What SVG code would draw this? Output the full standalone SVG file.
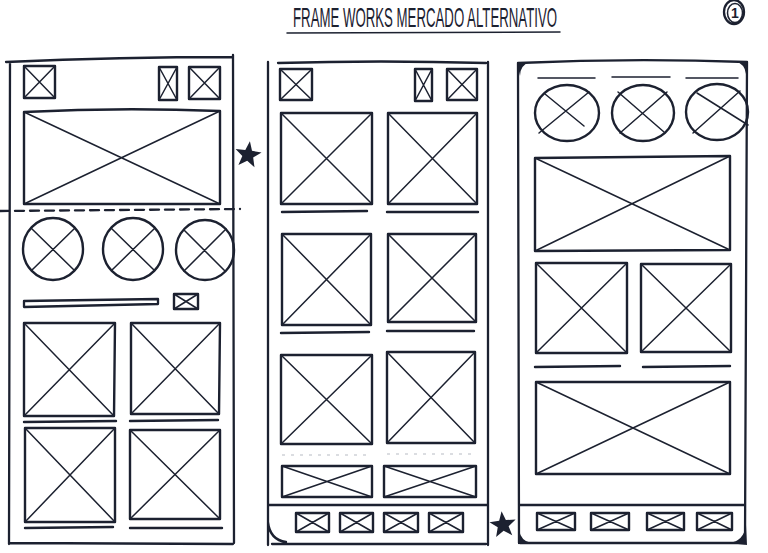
<svg xmlns="http://www.w3.org/2000/svg" width="768" height="553" viewBox="0 0 768 553">
<style>
.f{fill:none;stroke:#1c2130;stroke-width:2.3;stroke-linecap:round;stroke-linejoin:round}
.b{fill:none;stroke:#1c2130;stroke-width:2.4;stroke-linecap:round;stroke-linejoin:round}
.d{fill:none;stroke:#1c2130;stroke-width:1.5;stroke-linecap:round}
.t{fill:#1c2130;font-family:"Liberation Sans",Arial,sans-serif}
.k{fill:#1c2130}
.faint{fill:none;stroke:#b8bcc4;stroke-width:1.2;stroke-dasharray:3 6}
</style>
<defs>
<polygon id="star" points="0,-12 2.94,-4.05 11.41,-3.71 4.76,1.55 7.05,9.71 0,5 -7.05,9.71 -4.76,1.55 -11.41,-3.71 -2.94,-4.05"/>
</defs>
<rect width="768" height="553" fill="#ffffff"/>

<g id="title">
<text class="t" x="0" y="0" font-size="27" transform="translate(293 27) scale(0.5 1)" textLength="528" lengthAdjust="spacingAndGlyphs">FRAME WORKS MERCADO ALTERNATIVO</text>
<path class="d" d="M287 33 L560 32"/>
</g>
<g id="page-number">
<ellipse cx="734" cy="12" rx="10" ry="12" class="f"/>
<ellipse cx="735" cy="13" rx="7.5" ry="9.5" class="d"/>
<text class="t" x="735" y="18" font-size="14" font-weight="bold" text-anchor="middle">1</text>
</g>

<g id="panel-left">
<path class="f" d="M6 62 Q120 57 233 57 M10 63 L9 544 M233 55 L234 543 M9 543 L233 544"/>
<path class="b" d="M24 66 H55 V98 H24 Z M159 67 H177 V100 H159 Z M189 67 H220 V99 H189 Z"/>
<path class="d" d="M24 66 L55 98 M55 66 L24 98 M159 67 L177 100 M177 67 L159 100 M189 67 L220 99 M220 67 L189 99"/>
<path class="b" d="M24 112 Q120 107 220 111 V204 H24 Z"/>
<path class="d" d="M24 112 L220 204 M220 111 L24 204"/>
<path class="f" d="M0 211 L240 209" stroke-dasharray="9 6"/>
<g id="left-circles">
<ellipse class="b" cx="53" cy="249" rx="30" ry="31"/>
<ellipse class="b" cx="133" cy="249" rx="30" ry="31"/>
<ellipse class="b" cx="205" cy="250" rx="29" ry="30"/>
<path class="d" d="M31 228 L74 270 M75 228 L32 270 M111 228 L154 270 M155 228 L112 270 M184 230 L225 271 M226 229 L184 271"/>
</g>
<path class="f" d="M24 301 L158 299 L158 304 L24 307 Z"/>
<path class="b" d="M174 294 H198 V309 H174 Z"/>
<path class="d" d="M174 294 L198 309 M198 294 L174 309"/>
<path class="b" d="M24 323 H115 L114 416 H24 Z M131 323 H220 L219 414 H131 Z M25 428 H115 V522 H25 Z M130 430 H220 V519 H130 Z"/>
<path class="d" d="M24 323 L114 416 M115 323 L24 416 M131 323 L219 414 M220 323 L131 414 M25 428 L115 522 M115 428 L25 522 M130 430 L220 519 M220 430 L130 519"/>
<path class="b" d="M24 422 L116 421 M130 421 L218 420 M25 528 L113 527 M130 528 L222 528"/>
</g>

<g id="star-left"><use href="#star" class="k" transform="translate(248 155) rotate(8) scale(1.15)"/></g>

<g id="panel-middle">
<path class="f" d="M268 62 L268 545 M488 62 L488 545 M278 63 Q380 60 486 63 M268 505 L488 505 M272 544 L486 544 M268 522 Q270 540 286 542"/>
<path class="b" d="M280 69 H312 V100 H280 Z M415 69 H432 V101 H415 Z M447 69 H477 V100 H447 Z"/>
<path class="d" d="M280 69 L312 100 M312 69 L280 100 M415 69 L432 101 M432 69 L415 101 M447 69 L477 100 M477 69 L447 100"/>
<path class="b" d="M281 113 H372 V204 H281 Z M388 113 H477 V204 H388 Z M282 234 H371 V325 H282 Z M388 234 H476 V322 H388 Z M281 355 H372 V444 H281 Z M387 352 H475 V443 H387 Z M282 466 H372 V497 H282 Z M384 466 H476 V497 H384 Z"/>
<path class="d" d="M281 113 L372 204 M372 113 L281 204 M388 113 L477 204 M477 113 L388 204 M282 234 L371 325 M371 234 L282 325 M388 234 L476 322 M476 234 L388 322 M281 355 L372 444 M372 355 L281 444 M387 352 L475 443 M475 352 L387 443 M282 466 L372 497 M372 466 L282 497 M384 466 L476 497 M476 466 L384 497"/>
<path class="b" d="M282 212 L367 211 M387 212 L478 212 M281 333 L369 332 M387 331 L474 331"/>
<path class="faint" d="M282 455 L372 455 M387 454 L476 454"/>
<g id="middle-bar">
<path class="b" d="M296 513 H329 V532 H296 Z M340 513 H373 V532 H340 Z M384 513 H418 V532 H384 Z M429 513 H463 V532 H429 Z"/>
<path class="d" d="M296 513 L329 532 M329 513 L296 532 M340 513 L373 532 M373 513 L340 532 M384 513 L418 532 M418 513 L384 532 M429 513 L463 532 M463 513 L429 532"/>
</g>
</g>

<g id="star-middle"><use href="#star" class="k" transform="translate(503 525) rotate(-6) scale(1.15)"/></g>

<g id="panel-right">
<path class="f" d="M518 63 Q630 58 747 62 M518 63 L519 543 M747 62 L745 543 M520 543 L745 543 M520 505 L745 505"/>
<path class="k" d="M517 62 L530 62 Q520 65 520 76 Z M748 61 L735 61 Q745 64 746 74 Z M519 530 Q521 541 531 543 L518 544 Z M746 525 Q744 541 729 543 L747 545 Z"/>
<path class="d" d="M538 78 L595 78 M612 77 L670 77 M686 78 L738 78"/>
<g id="right-circles">
<ellipse class="b" cx="567" cy="113" rx="32" ry="28"/>
<ellipse class="b" cx="643" cy="113" rx="31" ry="28"/>
<ellipse class="b" cx="717" cy="112" rx="31" ry="28"/>
<path class="d" d="M545 94 L584 126 M589 92 L539 133 M618 92 L664 132 M667 92 L620 133 M697 93 L748 125 M740 91 L693 133"/>
</g>
<path class="b" d="M535 158 L730 156 V250 L535 251 Z M536 263 H627 V353 H536 Z M641 264 H731 V352 H641 Z M536 382 H730 V474 H536 Z"/>
<path class="d" d="M535 158 L730 250 M730 156 L535 251 M536 263 L627 353 M627 263 L536 353 M641 264 L731 352 M731 264 L641 352 M536 382 L730 474 M730 382 L536 474"/>
<path class="b" d="M535 367 L620 366 M643 367 L730 366"/>
<g id="right-bar">
<path class="b" d="M537 513 H575 V530 H537 Z M591 513 H629 V530 H591 Z M647 513 H684 V530 H647 Z M697 513 H732 V530 H697 Z"/>
<path class="d" d="M537 513 L575 530 M575 513 L537 530 M591 513 L629 530 M629 513 L591 530 M647 513 L684 530 M684 513 L647 530 M697 513 L732 530 M732 513 L697 530"/>
</g>
</g>
</svg>
